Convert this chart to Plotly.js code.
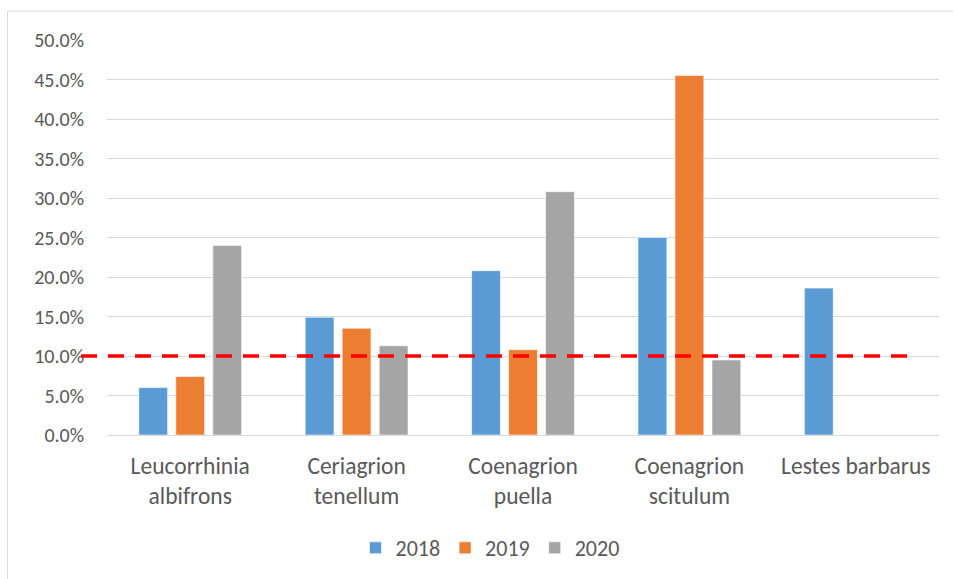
<!DOCTYPE html>
<html>
<head>
<meta charset="utf-8">
<script src="https://cdn.plot.ly/plotly-3.0.1.min.js"></script>
<style>html,body{margin:0;padding:0;background:#fff;}#chart{width:953px;height:579px;}</style>
</head>
<body>
<div id="chart"></div>
<script>
var categories = ["Leucorrhinia<br>albifrons", "Ceriagrion<br>tenellum", "Coenagrion<br>puella", "Coenagrion<br>scitulum", "Lestes barbarus"];
var seriesNames = ["2018", "2019", "2020"];
var values2018 = [6.0, 14.9, 20.8, 25.0, 18.6];
var values2019 = [7.4, 13.5, 10.8, 45.5, null];
var values2020 = [24.0, 11.3, 30.8, 9.5, null];
var threshold = [10, 10];
var yTickVals = [0, 5, 10, 15, 20, 25, 30, 35, 40, 45, 50];
var yTickText = ["0.0%", "5.0%", "10.0%", "15.0%", "20.0%", "25.0%", "30.0%", "35.0%", "40.0%", "45.0%", "50.0%"];

var colors = ["#5B9BD5", "#ED7D31", "#A5A5A5"];
var font = "Carlito, Lato, sans-serif";
var allValues = [values2018, values2019, values2020];

var traces = allValues.map(function (vals, i) {
  return {
    type: "bar",
    name: seriesNames[i],
    x: categories,
    y: vals,
    marker: { color: colors[i], line: { color: "rgba(255,255,255,0.6)", width: 1 } },
    hoverinfo: "none"
  };
});

// plot area in pixels: left 107, right 939, top 40, bottom 435
var L = 107, R = 939, T = 40.3, B = 435;
function px(x) { return (x - L) / (R - L); }
function py(y) { return (B - y) / (B - T); }

var layout = {
  width: 953, height: 579,
  margin: { l: L, r: 953 - R, t: T, b: 579 - B, pad: 0 },
  paper_bgcolor: "#ffffff",
  plot_bgcolor: "#ffffff",
  font: { family: font, size: 20, color: "#595959" },
  barmode: "group",
  bargap: 0.333,
  bargroupgap: 0.22,
  showlegend: true,
  legend: {
    orientation: "h",
    xref: "container", yref: "container",
    x: 490 / 953, xanchor: "center",
    y: 1 - 548 / 579, yanchor: "middle",
    font: { family: font, size: 22, color: "#595959" },
    itemwidth: 30,
    traceorder: "normal"
  },
  xaxis: {
    type: "category",
    showgrid: false,
    zeroline: false,
    showline: false,
    ticks: "",
    ticklabelstandoff: 14,
    tickfont: { family: font, size: 23.5, color: "#595959" }
  },
  yaxis: {
    range: [0, 50],
    tickvals: yTickVals,
    ticktext: yTickText,
    showgrid: true,
    gridcolor: "#D9D9D9",
    gridwidth: 1,
    zeroline: true,
    zerolinecolor: "#D9D9D9",
    zerolinewidth: 1,
    showline: false,
    ticks: "",
    ticklabelstandoff: 22,
    tickfont: { family: font, size: 20, color: "#595959" }
  },
  shapes: [
    {
      type: "line", xref: "paper", yref: "y",
      x0: px(81), x1: px(910), y0: threshold[0], y1: threshold[1],
      line: { color: "#FF0000", width: 3.5, dash: "16px,11px" },
      layer: "above"
    },
    {
      type: "line", xref: "paper", yref: "paper",
      x0: px(7.5), x1: px(960), y0: py(11.5), y1: py(11.5),
      line: { color: "#D9D9D9", width: 1 }
    },
    {
      type: "line", xref: "paper", yref: "paper",
      x0: px(7.5), x1: px(7.5), y0: py(11.5), y1: py(590),
      line: { color: "#D9D9D9", width: 1 }
    }
  ]
};

Plotly.newPlot("chart", traces, layout, { staticPlot: true, displayModeBar: false });
</script>
</body>
</html>
